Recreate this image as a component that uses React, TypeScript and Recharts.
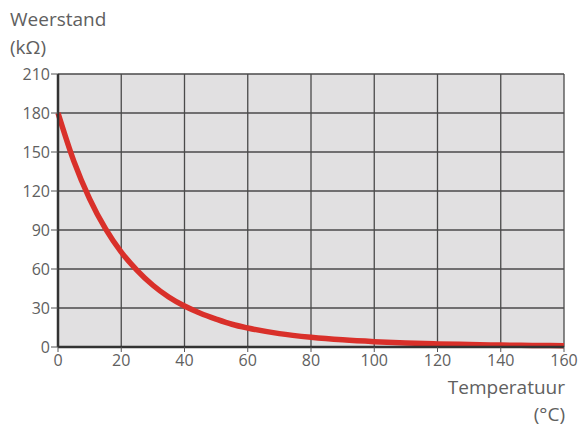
import React from "react";
import { LineChart, Line, XAxis, YAxis, CartesianGrid } from "recharts";

// Weerstand (kΩ) tegen temperatuur (°C)
const temperatures = [0, 5, 10, 15, 20, 25, 30, 35, 40, 45, 50, 55, 60, 70, 80, 90, 100, 110, 120, 130, 140, 150, 160];
const resistance = [180, 143, 114, 91, 73, 59, 47.5, 38.5, 31.5, 26, 21.5, 17.5, 14.6, 10.3, 7.5, 5.5, 4.1, 3.1, 2.4, 1.9, 1.5, 1.2, 1];

const xTicks = [0, 20, 40, 60, 80, 100, 120, 140, 160];
const yTicks = [0, 30, 60, 90, 120, 150, 180, 210];

const data = temperatures.map((t, i) => ({ t, r: resistance[i] }));

const FONT = "'Open Sans', 'Noto Sans', sans-serif";
const TEXT = "#606060";

export default function App() {
  return (
    <div style={{ position: "relative", width: 579, height: 429, fontFamily: FONT }}>
      <style>{"body{margin:0}"}</style>
      <LineChart
        width={579}
        height={429}
        data={data}
        margin={{ top: 74, right: 15, bottom: 52, left: 8 }}
      >
        <CartesianGrid fill="#e1e0e1" stroke="#4a4a4a" strokeWidth={1.3} />
        <XAxis
          type="number"
          dataKey="t"
          domain={[0, 160]}
          ticks={xTicks}
          height={30}
          axisLine={{ stroke: "#333", strokeWidth: 2.5 }}
          tickLine={{ stroke: "#555" }}
          tickSize={5}
          tickMargin={3}
          tick={{ fill: TEXT, fontSize: 16, fontFamily: FONT }}
        />
        <YAxis
          type="number"
          domain={[0, 210]}
          ticks={yTicks}
          width={50}
          axisLine={{ stroke: "#333", strokeWidth: 2.5 }}
          tickLine={{ stroke: "#555" }}
          tickSize={7}
          tickMargin={1}
          tick={{ fill: TEXT, fontSize: 16, fontFamily: FONT }}
        />
        <Line
          type="monotone"
          dataKey="r"
          stroke="#d9302a"
          strokeWidth={5.5}
          dot={false}
          isAnimationActive={false}
        />
      </LineChart>
      <div style={{ position: "absolute", left: 10, top: 5, fontSize: 19, color: TEXT, lineHeight: "28px" }}>
        Weerstand
        <br />
        (kΩ)
      </div>
      <div
        style={{
          position: "absolute",
          right: 14,
          top: 374,
          fontSize: 19,
          color: TEXT,
          lineHeight: "27px",
          textAlign: "right",
        }}
      >
        Temperatuur
        <br />
        (°C)
      </div>
    </div>
  );
}
